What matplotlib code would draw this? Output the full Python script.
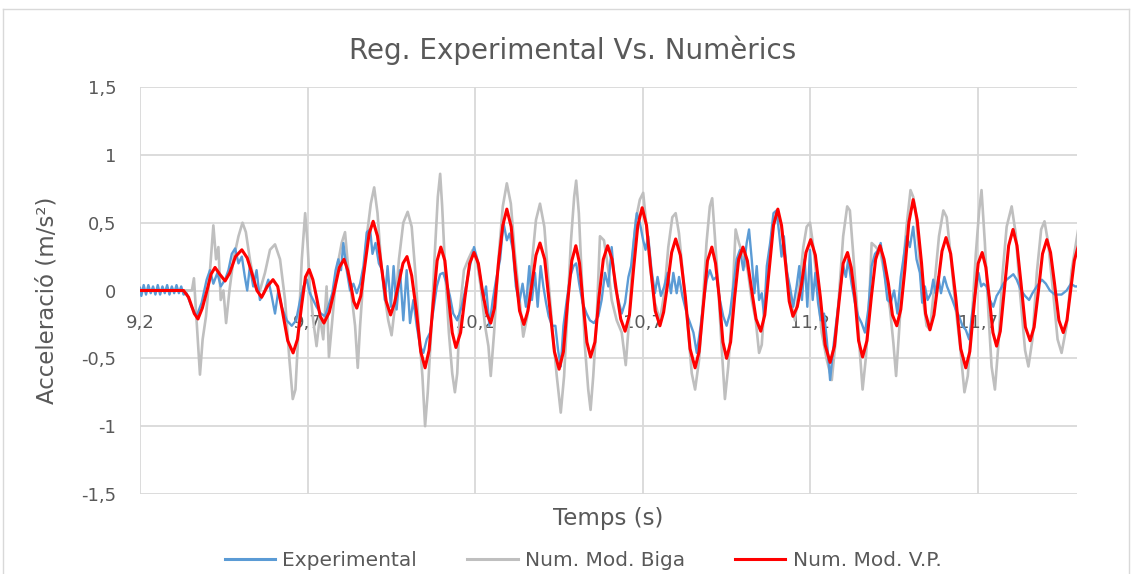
import matplotlib
matplotlib.use("Agg")
import matplotlib.pyplot as plt
from matplotlib.lines import Line2D

plt.rcParams['font.family'] = ['DejaVu Sans']

# ---------------- data ----------------
title = "Reg. Experimental Vs. Numèrics"
x_label = "Temps (s)"
y_label = "Acceleració (m/s²)"
series_names = ["Experimental", "Num. Mod. Biga", "Num. Mod. V.P."]
x_ticks = [9.2, 9.7, 10.2, 10.7, 11.2, 11.7]
x_tick_labels = ["9,2", "9,7", "10,2", "10,7", "11,2", "11,7"]
y_ticks = [-1.5, -1.0, -0.5, 0.0, 0.5, 1.0, 1.5]
y_tick_labels = ["-1,5", "-1", "-0,5", "0", "0,5", "1", "1,5"]

exp_t = [9.200, 9.204, 9.211, 9.218, 9.225, 9.232, 9.239, 9.246, 9.253, 9.260,
         9.267, 9.274, 9.281, 9.288, 9.295, 9.302, 9.309, 9.316, 9.323, 9.330,
         9.339, 9.354, 9.369, 9.384, 9.399, 9.409, 9.419, 9.431, 9.441, 9.454,
         9.464, 9.474, 9.484, 9.494, 9.504, 9.513, 9.520, 9.528, 9.538, 9.548,
         9.558, 9.570, 9.583, 9.593, 9.603, 9.613, 9.623, 9.638, 9.653, 9.666,
         9.678, 9.688, 9.698, 9.707, 9.717, 9.727, 9.740, 9.752, 9.762, 9.774,
         9.784, 9.792, 9.800, 9.807, 9.817, 9.827, 9.837, 9.847, 9.857, 9.867,
         9.877, 9.887, 9.894, 9.903, 9.913, 9.923, 9.931, 9.939, 9.949, 9.957,
         9.966, 9.976, 9.986, 9.996, 10.006, 10.016, 10.026, 10.036, 10.046, 10.056,
         10.066, 10.076, 10.086, 10.096, 10.105, 10.118, 10.125, 10.135, 10.147, 10.160,
         10.173, 10.185, 10.197, 10.207, 10.217, 10.225, 10.233, 10.243, 10.253, 10.263,
         10.275, 10.285, 10.295, 10.303, 10.313, 10.322, 10.332, 10.342, 10.352, 10.362,
         10.370, 10.379, 10.387, 10.396, 10.404, 10.412, 10.420, 10.430, 10.440, 10.448,
         10.456, 10.464, 10.474, 10.484, 10.494, 10.502, 10.511, 10.521, 10.533, 10.543,
         10.555, 10.568, 10.578, 10.588, 10.598, 10.608, 10.618, 10.628, 10.638, 10.648,
         10.658, 10.666, 10.676, 10.683, 10.692, 10.702, 10.709, 10.717, 10.727, 10.737,
         10.745, 10.755, 10.765, 10.775, 10.785, 10.792, 10.802, 10.809, 10.819, 10.832,
         10.842, 10.852, 10.862, 10.872, 10.882, 10.892, 10.901, 10.911, 10.921, 10.931,
         10.941, 10.951, 10.961, 10.971, 10.981, 10.991, 11.001, 11.011, 11.018, 11.026,
         11.034, 11.041, 11.048, 11.056, 11.063, 11.071, 11.081, 11.091, 11.100, 11.108,
         11.115, 11.122, 11.130, 11.140, 11.150, 11.160, 11.168, 11.176, 11.184, 11.192,
         11.200, 11.208, 11.216, 11.224, 11.232, 11.242, 11.250, 11.260, 11.270, 11.279,
         11.289, 11.299, 11.307, 11.314, 11.324, 11.334, 11.344, 11.354, 11.364, 11.374,
         11.384, 11.394, 11.404, 11.411, 11.421, 11.431, 11.441, 11.451, 11.461, 11.471,
         11.481, 11.488, 11.498, 11.508, 11.518, 11.528, 11.535, 11.543, 11.551, 11.561,
         11.568, 11.575, 11.583, 11.591, 11.601, 11.609, 11.617, 11.625, 11.635, 11.645,
         11.655, 11.665, 11.675, 11.683, 11.693, 11.703, 11.711, 11.718, 11.727, 11.737,
         11.747, 11.757, 11.767, 11.777, 11.787, 11.797, 11.807, 11.817, 11.830, 11.842,
         11.854, 11.864, 11.877, 11.892, 11.904, 11.916, 11.931, 11.951, 11.966, 11.979,
         11.991, 12.000]
exp_a = [0.02, -0.04, 0.04, -0.03, 0.04, -0.02, 0.03, -0.03, 0.04, -0.03,
         0.03, -0.02, 0.04, -0.03, 0.03, -0.02, 0.04, -0.02, 0.03, -0.03,
         -0.02, -0.12, -0.19, -0.09, 0.08, 0.15, 0.05, 0.13, 0.03, 0.08,
         0.15, 0.27, 0.31, 0.20, 0.25, 0.10, 0.00, 0.18, 0.03, 0.15,
         -0.07, -0.02, 0.08, -0.04, -0.17, 0.00, -0.12, -0.22, -0.26, -0.22,
         -0.07, 0.03, 0.08, -0.02, -0.07, -0.12, -0.17, -0.19, -0.12, -0.02,
         0.15, 0.23, 0.15, 0.35, 0.15, 0.00, 0.05, -0.02, 0.05, 0.18,
         0.43, 0.45, 0.27, 0.35, 0.20, 0.15, -0.07, 0.18, -0.12, 0.18,
         -0.14, 0.15, -0.22, 0.15, -0.24, -0.07, -0.26, -0.41, -0.46, -0.36,
         -0.31, -0.14, 0.03, 0.12, 0.13, 0.03, -0.04, -0.17, -0.22, -0.12,
         0.03, 0.18, 0.32, 0.23, 0.08, -0.07, 0.03, -0.26, -0.07, 0.08,
         0.23, 0.50, 0.37, 0.42, 0.30, 0.03, -0.09, 0.05, -0.12, 0.18,
         -0.07, 0.13, -0.12, 0.18, 0.03, -0.09, -0.19, -0.26, -0.26, -0.44,
         -0.56, -0.26, -0.07, 0.10, 0.18, 0.20, 0.05, -0.09, -0.17, -0.22,
         -0.24, -0.19, -0.07, 0.13, 0.03, 0.32, 0.03, -0.07, -0.17, -0.09,
         0.10, 0.18, 0.42, 0.57, 0.50, 0.37, 0.30, 0.40, 0.15, -0.02,
         0.10, -0.04, 0.03, 0.13, -0.02, 0.13, -0.02, 0.10, -0.04, -0.17,
         -0.24, -0.31, -0.46, -0.29, -0.09, 0.08, 0.15, 0.08, 0.10, -0.07,
         -0.19, -0.26, -0.17, 0.03, 0.23, 0.30, 0.15, 0.35, 0.45, 0.23,
         -0.02, 0.18, -0.07, -0.02, -0.19, 0.18, 0.35, 0.57, 0.59, 0.42,
         0.25, 0.40, 0.15, 0.03, -0.12, 0.03, 0.18, -0.07, 0.23, -0.12,
         0.30, -0.07, 0.13, -0.09, -0.22, -0.17, -0.36, -0.66, -0.41, -0.22,
         -0.02, 0.18, 0.10, 0.23, 0.05, -0.09, -0.19, -0.24, -0.31, -0.14,
         0.18, 0.27, 0.30, 0.35, 0.15, -0.07, -0.09, 0.00, -0.17, 0.10,
         0.27, 0.40, 0.32, 0.47, 0.23, 0.13, -0.09, 0.03, -0.07, -0.02,
         0.08, -0.02, 0.10, -0.02, 0.10, 0.03, -0.02, -0.07, -0.14, -0.19,
         -0.26, -0.29, -0.36, -0.19, -0.02, 0.13, 0.03, 0.05, 0.03, -0.07,
         -0.12, -0.04, 0.00, 0.05, 0.08, 0.10, 0.12, 0.08, 0.00, -0.04,
         -0.07, -0.02, 0.03, 0.08, 0.05, 0.00, -0.03, -0.03, 0.00, 0.05,
         0.03, 0.03]

biga_t = [9.200, 9.355, 9.361, 9.369, 9.379, 9.387, 9.397, 9.409, 9.419, 9.427,
          9.434, 9.441, 9.449, 9.457, 9.467, 9.479, 9.494, 9.506, 9.516, 9.528,
          9.543, 9.558, 9.573, 9.588, 9.603, 9.618, 9.633, 9.646, 9.656, 9.664,
          9.673, 9.683, 9.693, 9.700, 9.707, 9.717, 9.727, 9.737, 9.747, 9.757,
          9.764, 9.774, 9.787, 9.802, 9.812, 9.822, 9.834, 9.842, 9.850, 9.857,
          9.867, 9.877, 9.889, 9.899, 9.909, 9.919, 9.929, 9.941, 9.951, 9.961,
          9.973, 9.986, 9.999, 10.011, 10.023, 10.033, 10.043, 10.051, 10.059, 10.069,
          10.079, 10.089, 10.096, 10.102, 10.112, 10.122, 10.132, 10.140, 10.147, 10.155,
          10.167, 10.180, 10.193, 10.205, 10.217, 10.230, 10.240, 10.247, 10.257, 10.270,
          10.283, 10.295, 10.307, 10.319, 10.334, 10.344, 10.356, 10.369, 10.382, 10.394,
          10.407, 10.419, 10.432, 10.444, 10.456, 10.466, 10.476, 10.486, 10.496, 10.502,
          10.510, 10.520, 10.528, 10.538, 10.545, 10.553, 10.563, 10.573, 10.585, 10.598,
          10.608, 10.623, 10.638, 10.650, 10.660, 10.670, 10.680, 10.692, 10.702, 10.712,
          10.722, 10.737, 10.752, 10.765, 10.777, 10.789, 10.799, 10.809, 10.822, 10.835,
          10.847, 10.857, 10.869, 10.882, 10.891, 10.901, 10.908, 10.916, 10.926, 10.936,
          10.946, 10.956, 10.966, 10.978, 10.988, 11.001, 11.014, 11.026, 11.038, 11.048,
          11.056, 11.063, 11.076, 11.088, 11.102, 11.115, 11.128, 11.142, 11.155, 11.168,
          11.180, 11.190, 11.200, 11.210, 11.222, 11.235, 11.250, 11.265, 11.275, 11.287,
          11.299, 11.311, 11.319, 11.329, 11.339, 11.349, 11.357, 11.367, 11.377, 11.384,
          11.397, 11.411, 11.424, 11.439, 11.449, 11.457, 11.467, 11.477, 11.488, 11.500,
          11.508, 11.515, 11.523, 11.535, 11.548, 11.558, 11.571, 11.585, 11.598, 11.608,
          11.621, 11.633, 11.648, 11.661, 11.671, 11.683, 11.695, 11.705, 11.712, 11.722,
          11.732, 11.742, 11.752, 11.762, 11.774, 11.787, 11.802, 11.814, 11.827, 11.842,
          11.852, 11.864, 11.877, 11.890, 11.900, 11.911, 11.926, 11.939, 11.951, 11.966,
          11.981, 12.000]
biga_a = [0.00, 0.00, 0.09, -0.22, -0.62, -0.36, -0.19, 0.15, 0.48, 0.23,
          0.32, -0.07, 0.00, -0.24, 0.00, 0.23, 0.40, 0.50, 0.43, 0.23,
          0.03, 0.00, 0.13, 0.30, 0.34, 0.23, -0.07, -0.51, -0.80, -0.73,
          -0.30, 0.23, 0.57, 0.35, 0.03, -0.22, -0.41, -0.19, -0.36, 0.03,
          -0.49, -0.22, 0.15, 0.35, 0.43, 0.15, -0.09, -0.26, -0.57, -0.26,
          0.10, 0.40, 0.64, 0.76, 0.57, 0.23, -0.02, -0.22, -0.33, -0.12,
          0.23, 0.50, 0.58, 0.47, 0.10, -0.31, -0.63, -1.00, -0.75, -0.31,
          0.23, 0.69, 0.86, 0.62, 0.10, -0.31, -0.61, -0.75, -0.61, -0.14,
          0.15, 0.23, 0.30, 0.23, 0.03, -0.26, -0.41, -0.63, -0.31, 0.23,
          0.62, 0.79, 0.64, 0.27, -0.09, -0.34, -0.19, 0.18, 0.52, 0.64,
          0.47, 0.08, -0.31, -0.63, -0.90, -0.63, -0.14, 0.35, 0.69, 0.81,
          0.57, 0.03, -0.41, -0.73, -0.88, -0.63, -0.22, 0.40, 0.37, 0.15,
          -0.07, -0.22, -0.31, -0.55, -0.22, 0.23, 0.52, 0.67, 0.72, 0.47,
          0.18, -0.09, -0.22, -0.02, 0.32, 0.54, 0.57, 0.42, 0.08, -0.26,
          -0.61, -0.73, -0.51, -0.02, 0.35, 0.62, 0.68, 0.40, 0.03, -0.41,
          -0.80, -0.56, -0.19, 0.45, 0.35, 0.25, 0.15, -0.07, -0.22, -0.46,
          -0.40, -0.14, 0.15, 0.45, 0.59, 0.47, 0.20, -0.07, -0.22, 0.03,
          0.32, 0.47, 0.50, 0.32, 0.03, -0.31, -0.51, -0.66, -0.41, -0.02,
          0.40, 0.62, 0.59, 0.27, -0.07, -0.46, -0.73, -0.49, -0.07, 0.35,
          0.32, 0.27, 0.10, -0.14, -0.39, -0.63, -0.26, 0.15, 0.47, 0.74,
          0.69, 0.60, 0.35, -0.02, -0.26, -0.29, 0.03, 0.40, 0.59, 0.54,
          0.23, -0.09, -0.41, -0.75, -0.63, -0.22, 0.27, 0.59, 0.74, 0.35,
          -0.14, -0.56, -0.73, -0.41, 0.10, 0.47, 0.62, 0.42, -0.02, -0.44,
          -0.56, -0.36, 0.13, 0.45, 0.51, 0.35, -0.02, -0.36, -0.46, -0.26,
          0.15, 0.44]

vp_t = [9.200, 9.330, 9.345, 9.352, 9.362, 9.373, 9.386, 9.400, 9.412, 9.424,
        9.438, 9.454, 9.468, 9.485, 9.504, 9.520, 9.535, 9.549, 9.563, 9.580,
        9.597, 9.611, 9.625, 9.641, 9.657, 9.670, 9.683, 9.694, 9.705, 9.716,
        9.727, 9.738, 9.749, 9.765, 9.780, 9.795, 9.809, 9.820, 9.830, 9.838,
        9.847, 9.859, 9.872, 9.884, 9.896, 9.909, 9.922, 9.935, 9.948, 9.960,
        9.972, 9.985, 9.997, 10.011, 10.025, 10.038, 10.051, 10.063, 10.075, 10.087,
        10.098, 10.110, 10.121, 10.132, 10.143, 10.157, 10.170, 10.184, 10.197, 10.210,
        10.222, 10.235, 10.247, 10.258, 10.270, 10.283, 10.295, 10.308, 10.320, 10.333,
        10.346, 10.358, 10.370, 10.382, 10.394, 10.408, 10.422, 10.437, 10.451, 10.464,
        10.476, 10.489, 10.501, 10.512, 10.523, 10.534, 10.545, 10.558, 10.570, 10.583,
        10.596, 10.609, 10.622, 10.635, 10.648, 10.661, 10.673, 10.686, 10.699, 10.712,
        10.725, 10.738, 10.752, 10.763, 10.775, 10.787, 10.799, 10.813, 10.828, 10.842,
        10.857, 10.869, 10.882, 10.894, 10.907, 10.918, 10.929, 10.940, 10.951, 10.963,
        10.975, 10.987, 11.000, 11.013, 11.026, 11.039, 11.053, 11.065, 11.078, 11.091,
        11.104, 11.115, 11.127, 11.138, 11.149, 11.162, 11.175, 11.188, 11.202, 11.216,
        11.231, 11.245, 11.260, 11.273, 11.286, 11.299, 11.312, 11.323, 11.334, 11.345,
        11.357, 11.370, 11.383, 11.396, 11.409, 11.421, 11.434, 11.446, 11.459, 11.471,
        11.483, 11.495, 11.508, 11.520, 11.533, 11.545, 11.558, 11.570, 11.582, 11.594,
        11.606, 11.620, 11.635, 11.650, 11.665, 11.677, 11.690, 11.702, 11.714, 11.725,
        11.735, 11.746, 11.757, 11.768, 11.780, 11.793, 11.806, 11.818, 11.830, 11.843,
        11.857, 11.869, 11.882, 11.894, 11.907, 11.918, 11.930, 11.943, 11.956, 11.967,
        11.978, 11.989, 12.000]
vp_a = [0.00, 0.00, -0.05, -0.10, -0.17, -0.21, -0.13, 0.00, 0.12, 0.17,
        0.12, 0.07, 0.13, 0.25, 0.30, 0.24, 0.12, 0.00, -0.05, 0.03,
        0.08, 0.03, -0.15, -0.37, -0.46, -0.36, -0.10, 0.10, 0.155, 0.08,
        -0.05, -0.19, -0.24, -0.16, 0.00, 0.17, 0.23, 0.15, 0.03, -0.08,
        -0.13, -0.04, 0.20, 0.42, 0.51, 0.40, 0.15, -0.08, -0.18, -0.09,
        0.05, 0.20, 0.25, 0.11, -0.15, -0.45, -0.57, -0.44, -0.10, 0.22,
        0.32, 0.22, -0.05, -0.31, -0.42, -0.31, -0.05, 0.20, 0.28, 0.20,
        0.00, -0.17, -0.24, -0.13, 0.20, 0.48, 0.60, 0.47, 0.15, -0.15,
        -0.25, -0.15, 0.05, 0.26, 0.35, 0.23, -0.10, -0.45, -0.58, -0.45,
        -0.10, 0.22, 0.33, 0.20, -0.10, -0.38, -0.49, -0.38, -0.05, 0.23,
        0.33, 0.23, 0.00, -0.21, -0.30, -0.18, 0.15, 0.48, 0.61, 0.48,
        0.15, -0.15, -0.26, -0.16, 0.05, 0.28, 0.38, 0.26, -0.05, -0.43,
        -0.57, -0.45, -0.10, 0.22, 0.32, 0.20, -0.05, -0.38, -0.50, -0.38,
        -0.05, 0.23, 0.32, 0.22, 0.00, -0.21, -0.30, -0.18, 0.15, 0.48,
        0.60, 0.48, 0.20, -0.08, -0.19, -0.12, 0.05, 0.28, 0.375, 0.26,
        -0.05, -0.40, -0.53, -0.41, -0.10, 0.20, 0.28, 0.17, -0.05, -0.37,
        -0.49, -0.37, -0.05, 0.23, 0.33, 0.23, 0.05, -0.18, -0.26, -0.14,
        0.15, 0.50, 0.67, 0.52, 0.20, -0.17, -0.29, -0.18, 0.05, 0.29,
        0.39, 0.27, -0.05, -0.43, -0.57, -0.45, -0.10, 0.20, 0.28, 0.17,
        -0.05, -0.31, -0.41, -0.30, 0.00, 0.33, 0.45, 0.33, 0.05, -0.27,
        -0.37, -0.27, 0.00, 0.27, 0.375, 0.28, 0.05, -0.22, -0.31, -0.22,
        0.00, 0.22, 0.32]

colors = ["#5b9bd5", "#bfbfbf", "#ff0000"]
text_color = "#595959"
grid_color = "#d9d9d9"

# ---------------- figure ----------------
W, H = 1132, 574
fig = plt.figure(figsize=(W / 100, H / 100), dpi=100)
fig.patch.set_facecolor("white")

# chart-area border
for xs, ys in [([3 / W, 3 / W], [0, 1 - 9 / H]),
               ([3 / W, 1129 / W], [1 - 9 / H, 1 - 9 / H]),
               ([1129 / W, 1129 / W], [0, 1 - 9 / H])]:
    fig.add_artist(Line2D(xs, ys, transform=fig.transFigure, color=grid_color, lw=1.0))

left, right, top, bottom = 140, 1077, 87, 494
ax = fig.add_axes([left / W, 1 - bottom / H, (right - left) / W, (bottom - top) / H])

ax.plot(biga_t, biga_a, color=colors[1], lw=1.9, zorder=3, label=series_names[1],
        solid_joinstyle="round")
ax.plot(exp_t, exp_a, color=colors[0], lw=1.7, zorder=4, label=series_names[0],
        solid_joinstyle="round")
ax.plot(vp_t, vp_a, color=colors[2], lw=2.2, zorder=5, label=series_names[2],
        solid_joinstyle="round")

ax.set_xlim(9.2, 11.997)
ax.set_ylim(-1.5, 1.5)

ax.set_yticks(y_ticks)
ax.set_yticklabels(y_tick_labels)
ax.set_xticks(x_ticks)
ax.set_xticklabels(x_tick_labels)

for sp in ["top", "right", "left"]:
    ax.spines[sp].set_visible(False)
ax.spines["bottom"].set_position(("data", 0))
ax.spines["bottom"].set_visible(False)

ax.grid(True, color=grid_color, lw=1.3, zorder=0)
ax.set_axisbelow(True)
ax.tick_params(axis="both", length=0, labelsize=13, labelcolor=text_color)
ax.tick_params(axis="x", pad=17)
ax.tick_params(axis="y", pad=17)

fig.text(573 / W, 1 - 50 / H, title, ha="center", va="center", fontsize=20,
         color=text_color)
fig.text(608 / W, 1 - 518 / H, x_label, ha="center", va="center", fontsize=16.5,
         color=text_color)
fig.text(47 / W, 1 - 300 / H, y_label, ha="center", va="center", fontsize=16.5,
         color=text_color, rotation=90)

handles = [Line2D([], [], color=c, lw=2.2) for c in colors]
fig.legend(handles, series_names, loc="center", bbox_to_anchor=(583 / W, 1 - 561 / H),
           ncol=3, frameon=False, fontsize=14.5, labelcolor=text_color,
           handlelength=2.5, handletextpad=0.35, columnspacing=2.5)

fig.savefig("out.png", dpi=100, facecolor="white")
